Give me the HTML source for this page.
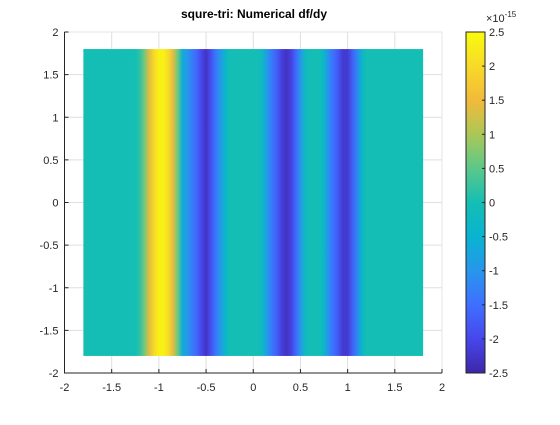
<!DOCTYPE html>
<html><head><meta charset="utf-8"><style>
body{margin:0;background:#fff;}
text{font-family:"Liberation Sans",sans-serif;font-size:11px;fill:#262626;}
</style></head><body>
<svg id="c" width="560" height="420" xmlns="http://www.w3.org/2000/svg">
<rect width="560" height="420" fill="#fff"/>
<defs><linearGradient id="g" x1="0" x2="1" y1="0" y2="0"></linearGradient>
<linearGradient id="cbg" x1="0" x2="0" y1="1" y2="0"></linearGradient></defs>
<g id="grid"></g>
<g id="plot"></g>
<g id="axes"></g>
<text x="254" y="18" text-anchor="middle" style="font-weight:bold;font-size:12px;fill:#000">squre-tri: Numerical df/dy</text>
</svg>
<script>
const xSamples=[-1.8,-1.75,-1.7,-1.65,-1.6,-1.55,-1.5,-1.45,-1.4,-1.35,-1.3,-1.25,-1.2,-1.15,-1.1,-1.05,-1.0,-0.95,-0.9,-0.85,-0.8,-0.75,-0.7,-0.65,-0.6,-0.55,-0.5,-0.45,-0.4,-0.35,-0.3,-0.25,-0.2,-0.15,-0.1,-0.05,0,0.05,0.1,0.15,0.2,0.25,0.3,0.35,0.4,0.45,0.5,0.55,0.6,0.65,0.7,0.75,0.8,0.85,0.9,0.95,1.0,1.05,1.1,1.15,1.2,1.25,1.3,1.35,1.4,1.45,1.5,1.55,1.6,1.65,1.7,1.75,1.8];
const values=[0,0,0,0,0,0,0,0,0,0,0,0,0.2,0.7,1.4,2.0,2.35,2.35,2.0,1.4,0.6,-0.6,-1.0,-1.3,-1.6,-2.0,-2.3,-1.9,-1.4,-1.0,-0.4,0,0,0,0,0,0,0,-0.3,-1.0,-1.4,-1.7,-2.1,-2.3,-2.1,-1.6,-1.0,-0.2,0,0,0,-0.4,-1.1,-1.5,-1.8,-2.2,-2.2,-1.7,-1.2,-0.4,0,0,0,0,0,0,0,0,0,0,0,0,0];
const yRange=[-1.8,1.8];
const xTicks=[-2,-1.5,-1,-0.5,0,0.5,1,1.5,2];
const yTicks=[-2,-1.5,-1,-0.5,0,0.5,1,1.5,2];
const cTicks=[-2.5,-2,-1.5,-1,-0.5,0,0.5,1,1.5,2,2.5];
const cLim=[-2.5,2.5];
const NS="http://www.w3.org/2000/svg";
const X0=64.5,X1=442,Y0=32,Y1=373;
const sx=v=>X0+(v+2)/4*(X1-X0);
const sy=v=>Y1-(v+2)/4*(Y1-Y0);
const par=[[62,38,168],[71,71,235],[62,111,255],[39,150,235],[8,180,208],[20,190,180],[91,200,137],[171,199,87],[242,186,58],[247,218,40],[249,251,14]];
function cmap(v){let t=(v-cLim[0])/(cLim[1]-cLim[0]);t=Math.max(0,Math.min(1,t))*10;const i=Math.min(9,Math.floor(t)),f=t-i;const a=par[i],b=par[i+1];return 'rgb('+a.map((c,k)=>Math.round(c+(b[k]-c)*f)).join(',')+')';}
function el(t,at,p){const e=document.createElementNS(NS,t);for(const k in at)e.setAttribute(k,at[k]);p.appendChild(e);return e;}
const grid=document.getElementById('grid'),plot=document.getElementById('plot'),ax=document.getElementById('axes');
xTicks.forEach(t=>{const l=el('line',{x1:sx(t),x2:sx(t),y1:Y0,y2:Y1,stroke:'#dfdfdf','stroke-width':1},grid);

});
yTicks.forEach(t=>{const l=el('line',{x1:X0,x2:X1,y1:sy(t),y2:sy(t),stroke:'#dfdfdf','stroke-width':1},grid);

});
const g=document.getElementById('g');
const xa=xSamples[0],xb=xSamples[xSamples.length-1];
xSamples.forEach((x,i)=>{el('stop',{offset:(x-xa)/(xb-xa),'stop-color':cmap(values[i])},g);});
const img=el('rect',{x:sx(xa),y:sy(yRange[1]),width:sx(xb)-sx(xa),height:sy(yRange[0])-sy(yRange[1]),fill:'url(#g)'},plot);


const box=el('rect',{x:X0,y:Y0,width:X1-X0,height:Y1-Y0,fill:'none',stroke:'#e6e6e6','stroke-width':1},ax);


const frame=el('path',{d:`M${X0},${Y0}V${Y1}H${X1}`,fill:'none',stroke:'#262626','stroke-width':1},ax);


xTicks.forEach(t=>{el('line',{x1:sx(t),x2:sx(t),y1:Y1,y2:Y1-4,stroke:'#262626'},ax);
const tx=el('text',{x:sx(t),y:Y1+18,'text-anchor':'middle'},ax);tx.textContent=t;

});
yTicks.forEach(t=>{el('line',{x1:X0,x2:X0+4,y1:sy(t),y2:sy(t),stroke:'#262626'},ax);
const tx=el('text',{x:X0-6,y:sy(t)+4,'text-anchor':'end'},ax);tx.textContent=t;

});
const CX0=466,CX1=485;
const cy=v=>Y1-(v-cLim[0])/(cLim[1]-cLim[0])*(Y1-Y0);
const cbg=document.getElementById('cbg');
for(let i=0;i<=20;i++){const v=cLim[0]+(cLim[1]-cLim[0])*i/20;el('stop',{offset:i/20,'stop-color':cmap(v)},cbg);}
const cb=el('rect',{x:CX0,y:Y0,width:CX1-CX0,height:Y1-Y0,fill:'url(#cbg)',stroke:'#262626','stroke-width':1},ax);


cTicks.forEach(t=>{el('line',{x1:CX1-3,x2:CX1,y1:cy(t),y2:cy(t),stroke:'#262626'},ax);
const tx=el('text',{x:CX1+4,y:cy(t)+4},ax);tx.textContent=t;

});
const ex=el('text',{x:486,y:22,style:'font-size:11px'},ax);
ex.innerHTML='×10<tspan dy="-5" style="font-size:8px">-15</tspan>';


</script>
</body></html>
